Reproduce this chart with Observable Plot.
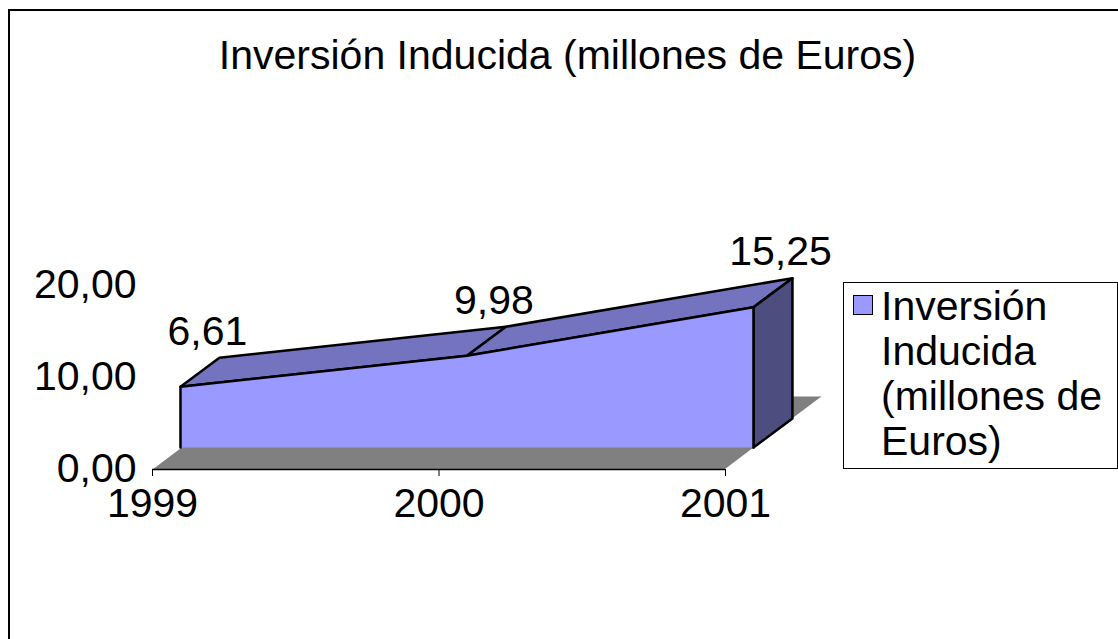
<!DOCTYPE html>
<html>
<head>
<meta charset="utf-8">
<script src="https://cdn.jsdelivr.net/npm/d3@7"></script>
<script src="https://cdn.jsdelivr.net/npm/@observablehq/plot@0.6"></script>
<style>
  html, body { margin: 0; padding: 0; background: #fff; overflow: hidden; }
  #wrap { position: relative; width: 1118px; height: 639px; overflow: hidden; font-family: "Liberation Sans", Arial, sans-serif; color: #000; }
  #border { position: absolute; left: 8px; top: 9px; width: 1300px; height: 800px; border-left: 2px solid #000; border-top: 2px solid #000; }
  #title { position: absolute; left: 0; top: 35px; width: 1135px; text-align: center; font-size: 41px; line-height: 41px; white-space: nowrap; }
  #chart { position: absolute; left: 0; top: 0; }
  #legend { position: absolute; left: 843px; top: 282px; width: 273px; height: 185px; border: 1px solid #000; background: #fff; }
  #legend .sw { position: absolute; left: 9px; top: 12px; width: 18px; height: 18px; border: 1px solid #000; background: #9999FF; }
  #legend .tx { position: absolute; left: 37px; top: 1px; font-size: 41px; line-height: 45px; white-space: nowrap; }
</style>
</head>
<body>
<div id="wrap">
  <div id="border"></div>
  <div id="chart"></div>
  <div id="title"></div>
  <div id="legend"><div class="sw"></div><div class="tx"></div></div>
</div>
<script>
// ---- data ----
const years = [1999, 2000, 2001];
const values = [6.61, 9.98, 15.25];
const valueLabels = ["6,61", "9,98", "15,25"];
const yTicks = [0, 10, 20];
const yTickLabels = ["0,00", "10,00", "20,00"];
const titleText = "Inversión Inducida (millones de Euros)";
const legendLines = ["Inversión", "Inducida", "(millones de", "Euros)"];

// ---- 3D projection offsets (in data units: years, value) ----
const FRONT = {x: 0.0977, y: 2.39};   // front plane of the area relative to floor front edge
const DEPTH = {x: 0.136, y: 3.15};    // depth of the area band
const FLOOR = {x: 0.3386, y: 7.93};   // depth of the floor

const colors = {front: "#9999FF", top: "#7373BF", side: "#4D4D80", floor: "#808080"};

const table = years.map((year, i) => ({year, value: values[i], label: valueLabels[i]}));
const last = table.length - 1;

const fx = d => d.year + FRONT.x;
const fy = d => d.value + FRONT.y;

// floor polygon
const floor = [
  {x: years[0], y: 0},
  {x: years[last], y: 0},
  {x: years[last] + FLOOR.x, y: FLOOR.y},
  {x: years[0] + FLOOR.x, y: FLOOR.y}
];
const floorEdge = [
  {x: years[last], y: 0},
  {x: years[last] + FLOOR.x, y: FLOOR.y}
];

// top faces
const tops = [];
for (let i = 0; i < last; i++) {
  const a = table[i], b = table[i + 1];
  tops.push(
    {face: i, x: fx(a), y: fy(a)},
    {face: i, x: fx(b), y: fy(b)},
    {face: i, x: fx(b) + DEPTH.x, y: fy(b) + DEPTH.y},
    {face: i, x: fx(a) + DEPTH.x, y: fy(a) + DEPTH.y}
  );
}

// right side face
const e = table[last];
const side = [
  {x: fx(e), y: FRONT.y},
  {x: fx(e), y: fy(e)},
  {x: fx(e) + DEPTH.x, y: fy(e) + DEPTH.y},
  {x: fx(e) + DEPTH.x, y: FRONT.y + DEPTH.y}
];

// front face
const frontTop = table.map(d => ({x: fx(d), y: fy(d)}));
const frontFill = [...frontTop, {x: fx(table[last]), y: FRONT.y}, {x: fx(table[0]), y: FRONT.y}];
const frontOutline = [{x: fx(table[0]), y: FRONT.y}, ...frontTop, {x: fx(table[last]), y: FRONT.y}];

const chart = Plot.plot({
  width: 1118,
  height: 639,
  marginLeft: 152,
  marginRight: 393,
  marginTop: 285,
  marginBottom: 170,
  x: {type: "linear", domain: [years[0], years[last]]},
  y: {type: "linear", domain: [yTicks[0], yTicks[yTicks.length - 1]]},
  style: {fontFamily: "'Liberation Sans', Arial, sans-serif", fontSize: "41px", color: "#000", background: "transparent", overflow: "visible"},
  marks: [
    Plot.line(floor, {x: "x", y: "y", fill: colors.floor, stroke: "none", curve: "linear-closed"}),
    Plot.line(floorEdge, {x: "x", y: "y", stroke: "#fff", strokeWidth: 1.5}),
    Plot.ruleY([0], {stroke: "#000", strokeWidth: 1.5}),
    Plot.line(tops, {x: "x", y: "y", z: "face", fill: colors.top, stroke: "#000", strokeWidth: 2.5, strokeLinejoin: "round", curve: "linear-closed"}),
    Plot.line(side, {x: "x", y: "y", fill: colors.side, stroke: "#000", strokeWidth: 2.5, strokeLinejoin: "round", curve: "linear-closed"}),
    Plot.line(frontFill, {x: "x", y: "y", fill: colors.front, stroke: "none", curve: "linear-closed"}),
    Plot.line(frontOutline, {x: "x", y: "y", stroke: "#000", strokeWidth: 2.5, strokeLinejoin: "round"}),
    Plot.axisX({ticks: years, tickFormat: d => String(d), tickSize: 7, tickPadding: 11, label: null, stroke: "#000"}),
    Plot.axisY({ticks: yTicks, tickFormat: d => yTickLabels[yTicks.indexOf(d)], tickSize: 0, tickPadding: 16, label: null, dy: -1}),
    Plot.text(table, {
      x: d => fx(d) + DEPTH.x,
      y: d => fy(d) + DEPTH.y,
      text: "label",
      dx: -12,
      dy: -13,
      lineAnchor: "bottom",
      fontSize: 41,
      fill: "#000"
    })
  ]
});
document.getElementById("chart").appendChild(chart);
document.getElementById("title").textContent = titleText;
document.querySelector("#legend .tx").innerHTML = legendLines.map(s => s.replace(/&/g, "&amp;").replace(/</g, "&lt;")).join("<br>");
</script>
</body>
</html>
